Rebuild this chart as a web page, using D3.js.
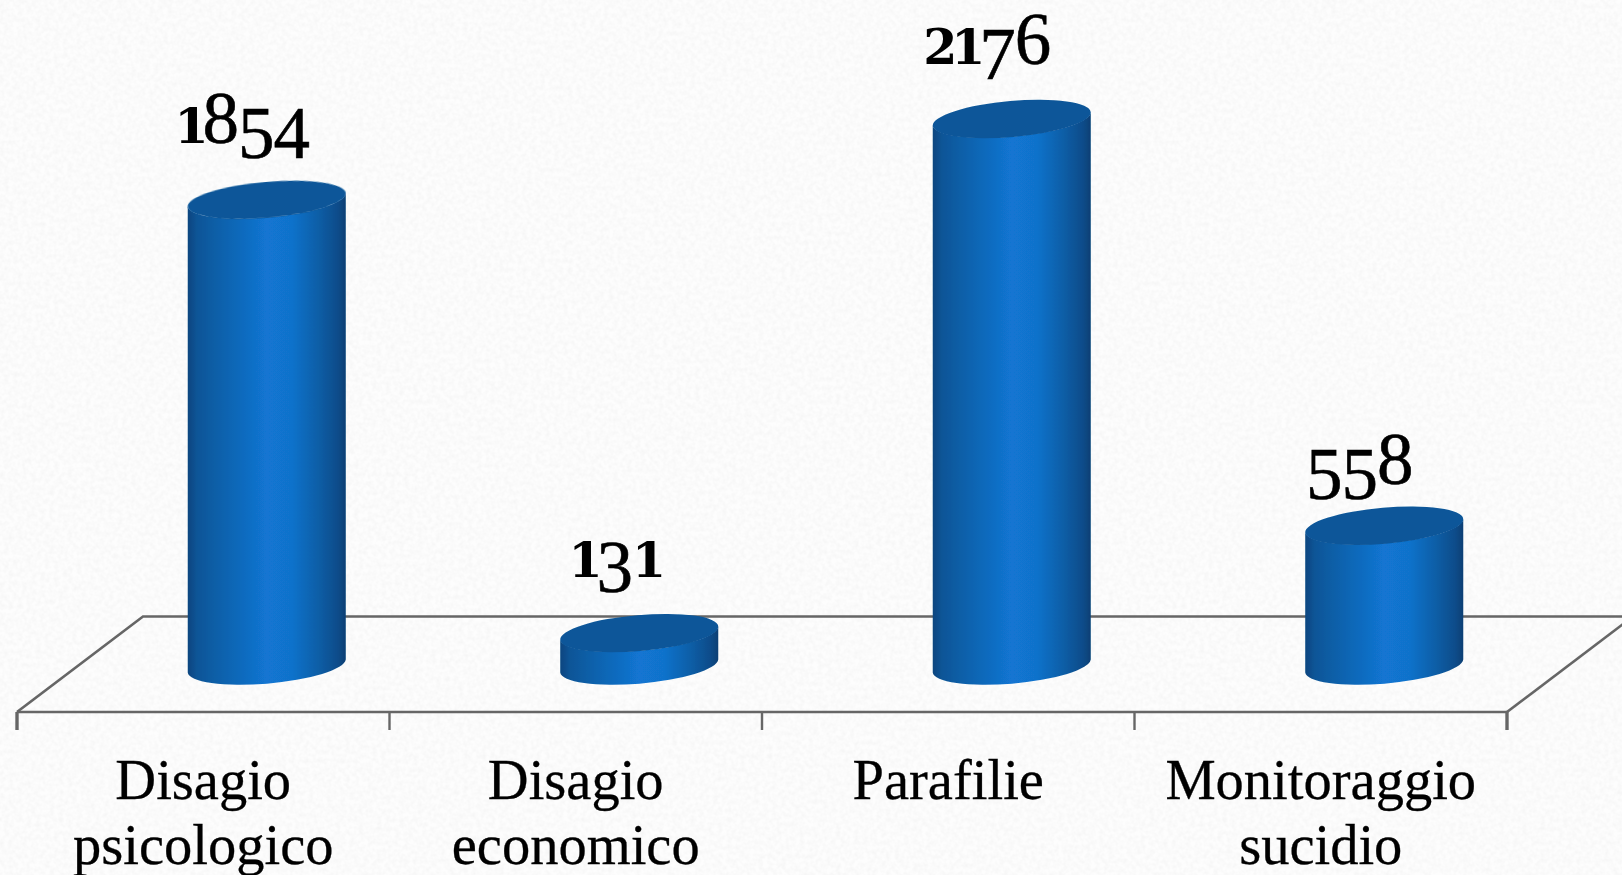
<!DOCTYPE html>
<html><head><meta charset="utf-8">
<script src="https://cdn.jsdelivr.net/npm/d3@7/dist/d3.min.js"></script>
<style>html,body{margin:0;padding:0;background:#fcfcfc;overflow:hidden}svg{display:block}</style>
</head><body><svg id="c" width="1622" height="875"></svg>
<script>
const categories = [["Disagio","psicologico"],["Disagio","economico"],["Parafilie"],["Monitoraggio","sucidio"]];
const values = [1854,131,2176,558];
const W=1622,H=875;
const FONT='"Liberation Serif","Times New Roman",serif';
const SMALLFONT='"DejaVu Serif","Liberation Serif",serif';
const axisL=17,axisR=1507,frontY=712,backY=616.5,depthX=126,tickLen=18;
const baseCY=666,rx=79.3,ry=18,tilt=-4.93,edgeX=79,edgeY=6.5,barShift=63.5;
const svg=d3.select("#c");
const x=d3.scaleBand().domain(d3.range(values.length)).range([axisL,axisR]);
const h=d3.scaleLinear().domain([0,2176]).range([0,547]);
const defs=svg.append("defs");
const g=defs.append("linearGradient").attr("id","cyl");
[[0,"#08457f"],[.06,"#0b5597"],[.22,"#0e62ad"],[.5,"#1275d2"],[.66,"#1172cb"],[.82,"#0d5fa8"],[.95,"#0a4c8a"],[1,"#083f74"]]
 .forEach(d=>g.append("stop").attr("offset",d[0]).attr("stop-color",d[1]));
const n=defs.append("filter").attr("id","noise").attr("x",0).attr("y",0).attr("width","100%").attr("height","100%");
n.append("feTurbulence").attr("type","fractalNoise").attr("baseFrequency",.22).attr("numOctaves",2).attr("seed",3);
n.append("feColorMatrix").attr("type","matrix").attr("values","0 0 0 0 .55  0 0 0 0 .55  0 0 0 0 .55  0 0 0 .22 -.07");
const soft=defs.append("filter").attr("id","soft");
soft.append("feGaussianBlur").attr("stdDeviation",.45);
svg.append("rect").attr("width",W).attr("height",H).attr("fill","#fdfdfd");
svg.append("rect").attr("width",W).attr("height",H).attr("filter","url(#noise)");
const root=svg.append("g").attr("filter","url(#soft)");
const floor=root.append("g").attr("stroke","#666").attr("fill","none");
floor.append("path").attr("stroke-width",2.6).attr("d",`M${axisL},${frontY}L${axisL+depthX},${backY}H${W}`);
floor.append("path").attr("stroke-width",2.6).attr("d",`M${axisR},${frontY}L${axisR+depthX},${backY}`);
floor.append("path").attr("stroke-width",2.4).attr("d",`M${axisL},${frontY}H${axisR}`);
const ticks=d3.range(values.length+1).map(i=>axisL+i*x.bandwidth());
floor.selectAll("line").data(ticks).join("line").attr("x1",d=>d).attr("x2",d=>d).attr("y1",frontY).attr("y2",frontY+tickLen)
 .attr("stroke-width",(d,i)=>i==0||i==values.length?3.4:2.4);
const cx=i=>x(i)+x.bandwidth()/2+barShift;
const bars=root.selectAll("g.b").data(values).join("g").attr("class","b");
bars.append("path").attr("fill","url(#cyl)").attr("d",(d,i)=>{
  const c=cx(i),t=baseCY-h(d);
  return `M${c-edgeX},${t+edgeY}V${baseCY+edgeY}A${rx},${ry} ${tilt} 0 0 ${c+edgeX},${baseCY-edgeY}V${t-edgeY}A${rx},${ry} ${tilt} 0 1 ${c-edgeX},${t+edgeY}Z`;
});
bars.append("ellipse").attr("cx",(d,i)=>cx(i)).attr("cy",d=>baseCY-h(d)).attr("rx",rx).attr("ry",ry)
 .attr("fill","#0b5799").attr("transform",(d,i)=>`rotate(${tilt} ${cx(i)} ${baseCY-h(d)})`);
// old-style figures: low digits small and heavy, some descend, some ascend
const digit={"1":[1,0],"2":[1,0],"0":[1,0],"3":[0,15],"4":[0,15],"5":[0,15],"7":[0,15],"9":[0,15],"6":[0,0],"8":[0,0]};
const fs=73,smallFs=49;
const labelLift=[57,56,55,42];
const labels=root.selectAll("text.v").data(values).join("text").attr("class","v")
 .attr("x",(d,i)=>cx(i)-25).attr("y",(d,i)=>baseCY-h(d)-labelLift[i]).attr("text-anchor","middle")
 .attr("fill","#000").attr("stroke","#000");
labels.each(function(d){
  let prev=0;const t=d3.select(this);
  String(d).split("").forEach(ch=>{const [s,o]=digit[ch];
    t.append("tspan").attr("font-family",s?SMALLFONT:FONT).attr("font-size",s?smallFs:fs)
     .attr("font-weight",s?"bold":"normal").attr("stroke-width",s?0:.6)
     .attr("letter-spacing",s?-6:-1).attr("dy",o-prev).text(ch);prev=o;});
});
const cat=root.selectAll("text.c").data(categories).join("text").attr("class","c")
 .attr("text-anchor","middle").attr("font-family",FONT).attr("font-size",56.5).attr("fill","#000")
 .attr("stroke","#000").attr("stroke-width",.3);
cat.each(function(d,i){
  d3.select(this).selectAll("tspan").data(d).join("tspan").attr("x",x(i)+x.bandwidth()/2).attr("y",(s,j)=>799+j*65).text(s=>s);
});
</script></body></html>
